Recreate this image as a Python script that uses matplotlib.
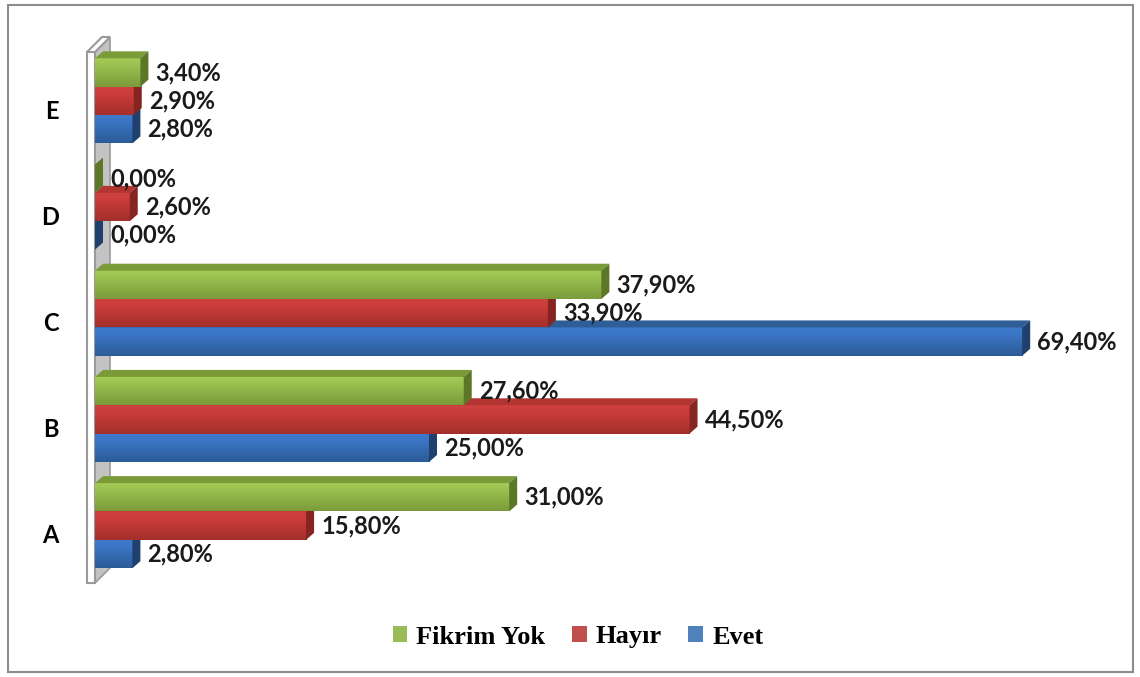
import numpy as np
import matplotlib.pyplot as plt
import matplotlib.transforms as mtransforms
from matplotlib.patches import Polygon, Rectangle, Patch
from matplotlib.colors import LinearSegmentedColormap

categories = ['A', 'B', 'C', 'D', 'E']
evet = [2.8, 25.0, 69.4, 0.0, 2.8]
hayir = [15.8, 44.5, 33.9, 2.6, 2.9]
fikrim_yok = [31.0, 27.6, 37.9, 0.0, 3.4]
series_names = ['Evet', 'Hayır', 'Fikrim Yok']

# front gradient (bottom, middle, top), top face, side face
styles = {
    'Evet':       (['#2c5b98', '#3a74c2', '#3f7bcd'], '#2f5d96', '#1f3f6c', '#4f81bd'),
    'Hayır':      (['#a22f2c', '#c93c39', '#d1423f'], '#b33532', '#862421', '#c0504d'),
    'Fikrim Yok': (['#7c9a3a', '#98bf4e', '#a6cc59'], '#7b9b38', '#5c7727', '#9bbb59'),
}

W, H = 1140, 677
fig = plt.figure(figsize=(W / 100, H / 100), dpi=100)
ax = fig.add_axes([95 / W, 94 / H, 1002 / W, 531 / H])
XMAX = 75
Y0, Y1 = -0.54, 4.46
ax.set_xlim(0, XMAX)
ax.set_ylim(Y0, Y1)

# pixel -> data conversion for the fake 3D depth
px_x = XMAX / 1002
px_y = 5 / 531
DX, DY = 8 * px_x, 7 * px_y

# left wall
wall_front = Rectangle((-8 * px_x, Y0), 8 * px_x, Y1 - Y0, facecolor='white',
                       edgecolor='#9a9a9a', lw=1.5, clip_on=False, zorder=1)
wall_side = Polygon([(0, Y0), (15 * px_x, Y0 + 15 * px_y),
                     (15 * px_x, Y1 + 15 * px_y), (0, Y1)],
                    facecolor='#c3c3c3', edgecolor='#9a9a9a', lw=1.2,
                    clip_on=False, zorder=1)
wall_top = Polygon([(-8 * px_x, Y1), (0, Y1), (15 * px_x, Y1 + 15 * px_y),
                    (7 * px_x, Y1 + 15 * px_y)],
                   facecolor='white', edgecolor='#9a9a9a', lw=1.5,
                   clip_on=False, zorder=1)
for p in (wall_side, wall_front, wall_top):
    ax.add_patch(p)

h = 0.267
y = np.arange(len(categories))
grad = np.linspace(0, 1, 64).reshape(-1, 1)

for i, (name, vals) in enumerate(zip(series_names, [evet, hayir, fikrim_yok])):
    stops, top_c, side_c, base = styles[name]
    cmap = LinearSegmentedColormap.from_list(name, list(zip([0, 0.7, 1], stops)))
    z = 3 + i * 0.1
    bars = ax.barh(y + (i - 1) * h, vals, height=h, color=base, zorder=z,
                   clip_on=False)
    for b, v in zip(bars, vals):
        yb, yt = b.get_y(), b.get_y() + b.get_height()
        if v > 0:
            ax.imshow(grad, extent=(0, v, yb, yt), origin='lower', cmap=cmap,
                      aspect='auto', zorder=z + 0.01, clip_on=False)
        ax.add_patch(Polygon([(0, yt), (v, yt), (v + DX, yt + DY), (DX, yt + DY)],
                             facecolor=top_c, edgecolor='none', zorder=z + 0.02,
                             clip_on=False))
        ax.add_patch(Polygon([(v, yb), (v + DX, yb + DY), (v + DX, yt + DY), (v, yt)],
                             facecolor=side_c, edgecolor='none', zorder=z + 0.02,
                             clip_on=False))
        ax.annotate(f'{v:.2f}%'.replace('.', ','), xy=(v, (yb + yt) / 2),
                    xytext=(15, 0), textcoords='offset pixels', va='center',
                    ha='left', fontsize=17, fontweight='bold', family='Lato',
                    color='#1a1a1a', zorder=6, annotation_clip=False)

ax.set_xlim(0, XMAX)
ax.set_ylim(Y0, Y1)
ax.set_xticks([])
ax.set_yticks(y)
ax.set_yticklabels(categories, fontsize=17, fontweight='bold', family='Lato')
ax.tick_params(axis='y', length=0, pad=26)
# category letters sit a little below the middle of each group
shift = mtransforms.ScaledTranslation(0, -6 / 72, fig.dpi_scale_trans)
for lbl in ax.get_yticklabels():
    lbl.set_transform(lbl.get_transform() + shift)
for s in ax.spines.values():
    s.set_visible(False)

handles = [Patch(facecolor=styles[n][3], edgecolor='none') for n in series_names[::-1]]
fig.legend(handles, series_names[::-1], loc='center',
           bbox_to_anchor=(578 / W, 1 - 637 / H), ncol=3, frameon=False,
           prop={'family': 'Liberation Serif', 'weight': 'bold', 'size': 19},
           handlelength=0.55, handleheight=0.55, handletextpad=0.35,
           columnspacing=1.0)

fig.patches.append(Rectangle((8 / W, 5 / H), 1125 / W, 667 / H,
                             transform=fig.transFigure, fill=False,
                             edgecolor='#8c8c8c', lw=1.5))

fig.savefig('out.png', dpi=100)
